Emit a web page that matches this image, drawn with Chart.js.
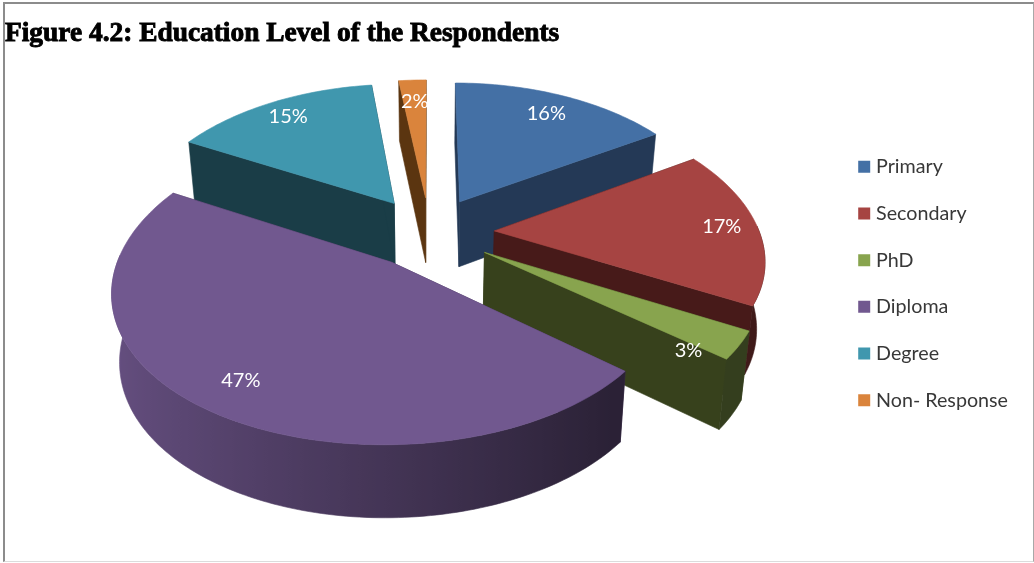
<!DOCTYPE html>
<html>
<head>
<meta charset="utf-8">
<title>Education Level of the Respondents</title>
<style>
  html, body { margin: 0; padding: 0; background: #fff; }
  #frame {
    position: absolute; left: 3px; top: 2px; width: 1028px; height: 557px;
    border-top: 2px solid #8c8c8c; border-left: 2px solid #8c8c8c;
    border-right: 1px solid #a8a8a8; border-bottom: 1px solid #dcdcdc;
  }
  canvas { position: absolute; left: 0; top: 0; }
</style>
</head>
<body>
<div id="frame"></div>
<canvas id="pie" width="1034" height="563"></canvas>
<script src="https://cdn.jsdelivr.net/npm/chart.js@4/dist/chart.umd.min.js"></script>
<script>
const categories = ['Primary', 'Secondary', 'PhD', 'Diploma', 'Degree', 'Non- Response']
const percentages = [16, 17, 3, 47, 15, 2]
const topColors = ['#4470a5', '#a64442', '#88a44e', '#71588f', '#4097ae', '#da843c']
const wallColors = ['#243956', '#471a19', '#37411c', '#433355', '#1a3d47', '#5b3510']
const labelReach = [0.815, 0.865, 0.825, 0.83, 0.85, 0.795]
const labelDepth = [0, 0, 0.33, 0, 0, 0]

// camera for the tilted pie; X,Y are in pie radii, z is depth below the top face
const view = { cx: 429.5, cy: 232, a: 265, b: 145, kx: 0.17, ky: 0.15, kz: 0.08, m: 0.025, thick: 66, explode: 0.245 }

function project(X, Y, z) {
  const fx = 1 / (1 - view.kx * Y), fy = 1 / (1 - view.ky * Y), fz = 1 / (1 - view.kz * Y)
  return [view.cx + view.a * X * fx * (1 - view.m * z), view.cy + view.b * Y * fy + view.thick * z * fz]
}

function fillPoly(ctx, pts, color) {
  ctx.beginPath()
  pts.forEach((p, i) => i ? ctx.lineTo(p[0], p[1]) : ctx.moveTo(p[0], p[1]))
  ctx.closePath()
  ctx.fillStyle = color
  ctx.strokeStyle = color
  ctx.lineWidth = 0.6
  ctx.fill()
  ctx.stroke()
}

// outer wall gets lighter towards the left
function shade(hex, nx) {
  const s = Math.max(0.38, Math.min(0.93, 0.6 - 0.31 * nx))
  const n = parseInt(hex.slice(1), 16)
  return `rgb(${Math.round((n >> 16) * s)},${Math.round(((n >> 8) & 255) * s)},${Math.round((n & 255) * s)})`
}

function drawSlice(ctx, arc, i) {
  const s = arc.startAngle, e = arc.endAngle, mid = (s + e) / 2
  const ox = view.explode * Math.cos(mid), oy = view.explode * Math.sin(mid)
  const steps = Math.max(2, Math.ceil((e - s) / 0.02))
  const rim = []
  for (let j = 0; j <= steps; j++) {
    const t = s + (e - s) * j / steps
    rim.push([ox + Math.cos(t), oy + Math.sin(t), t])
  }
  // radial walls
  const first = rim[0], last = rim[steps]
  fillPoly(ctx, [project(ox, oy, 0), project(first[0], first[1], 0), project(first[0], first[1], 1), project(ox, oy, 1)], wallColors[i])
  fillPoly(ctx, [project(ox, oy, 0), project(last[0], last[1], 0), project(last[0], last[1], 1), project(ox, oy, 1)], wallColors[i])
  // curved wall, only the part facing the viewer
  const front = rim.filter(p => Math.sin(p[2]) >= -0.05)
  if (front.length > 1) {
    const upper = front.map(p => project(p[0], p[1], 0))
    const lower = front.map(p => project(p[0], p[1], 1)).reverse()
    const xs = upper.map(p => p[0])
    const x0 = Math.min(...xs), x1 = Math.max(...xs)
    const grad = ctx.createLinearGradient(x0, 0, x1, 0)
    front.forEach((p, j) => grad.addColorStop((xs[j] - x0) / (x1 - x0), shade(topColors[i], Math.cos(p[2]))))
    fillPoly(ctx, upper.concat(lower), grad)
  }
  // top face
  fillPoly(ctx, [project(ox, oy, 0)].concat(rim.map(p => project(p[0], p[1], 0))), topColors[i])
}

const pie3d = {
  id: 'pie3d',
  beforeDatasetDraw(chart) {
    const ctx = chart.ctx
    const arcs = chart.getDatasetMeta(0).data
    const order = arcs.map((a, i) => i).sort((p, q) =>
      Math.sin((arcs[p].startAngle + arcs[p].endAngle) / 2) - Math.sin((arcs[q].startAngle + arcs[q].endAngle) / 2))
    ctx.save()
    order.forEach(i => drawSlice(ctx, arcs[i], i))
    ctx.restore()
    return false
  },
  afterDraw(chart) {
    const ctx = chart.ctx
    ctx.save()
    // value labels
    ctx.font = '20px Lato'
    ctx.fillStyle = '#fff'
    ctx.textAlign = 'center'
    ctx.textBaseline = 'middle'
    chart.getDatasetMeta(0).data.forEach((arc, i) => {
      const mid = (arc.startAngle + arc.endAngle) / 2
      const r = view.explode + labelReach[i]
      const p = project(r * Math.cos(mid), r * Math.sin(mid), labelDepth[i])
      ctx.fillText(percentages[i] + '%', p[0], p[1])
    })
    // heavier title, same text over the one the title plugin placed
    const t = chart.titleBlock, o = t.options
    const lh = o.font.size * 1.2
    ctx.font = `bold ${o.font.size}px "Liberation Serif"`
    ctx.textAlign = 'left'
    ctx.strokeStyle = '#000'
    ctx.lineWidth = 0.9
    ctx.strokeText(o.text, t.left, t.top + o.padding.top + lh / 2)
    ctx.restore()
  }
}

new Chart(document.getElementById('pie').getContext('2d'), {
  type: 'pie',
  data: {
    labels: categories,
    datasets: [{ data: percentages, backgroundColor: topColors, borderWidth: 0 }]
  },
  options: {
    responsive: false,
    animation: false,
    events: [],
    layout: { padding: { left: 5, top: 7, right: 16, bottom: 3 } },
    plugins: {
      tooltip: { enabled: false },
      title: {
        display: true,
        text: 'Figure 4.2: Education Level of the Respondents',
        align: 'start',
        color: '#000',
        font: { family: '"Liberation Serif"', size: 27.4, weight: 'bold' },
        padding: { top: 10, bottom: 10 }
      },
      legend: {
        position: 'right',
        labels: {
          usePointStyle: true,
          pointStyle: 'rect',
          boxWidth: 4,
          boxHeight: 12,
          padding: 27,
          color: '#383838',
          font: { family: 'Lato', size: 19.7 }
        }
      }
    }
  },
  plugins: [pie3d]
})
</script>
</body>
</html>
